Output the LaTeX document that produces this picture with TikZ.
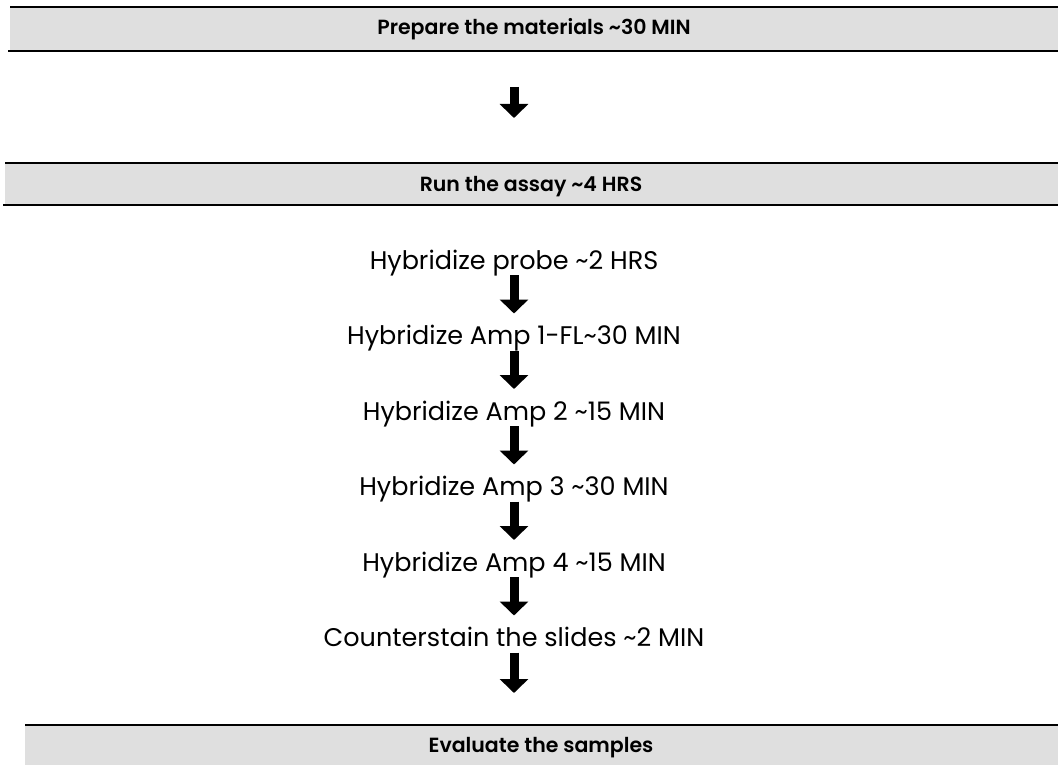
\documentclass[tikz,border=0pt]{standalone}
\usepackage{fontspec}
\setmainfont{Poppins}[BoldFont={Poppins SemiBold}]
\usetikzlibrary{arrows.meta,calc}
\definecolor{bandgray}{RGB}{223,223,223}
\tikzset{
  bandfill/.style={fill=bandgray, draw=none},
  bandline/.style={line width=2.6pt, black},
  bandtext/.style={font=\bfseries\fontsize{20.5}{24}\selectfont, inner sep=0pt, anchor=base},
  steptext/.style={font=\fontsize{25.5}{28}\selectfont, inner sep=0pt, anchor=base},
  bigarrow/.style={line width=9pt, -{Triangle[width=28pt,length=14pt]}}
}
\begin{document}
\begin{tikzpicture}[x=1pt,y=-1pt]
\useasboundingbox (0,0) rectangle (1058,765);
% band 1
\fill[bandfill] (10,8) rectangle (1058,50);
\draw[bandline] (10,7) -- (1058,7);
\draw[bandline] (8,51) -- (1058,51);
\node[bandtext] (b1) at (534,35) {Prepare the materials \textasciitilde30 MIN};
% band 2
\fill[bandfill] (5,164) rectangle (1058,204);
\draw[bandline] (5,163) -- (1058,163);
\draw[bandline] (3,205) -- (1058,205);
\node[bandtext] (b2) at (531,191) {Run the assay \textasciitilde4 HRS};
% band 3
\fill[bandfill] (25,726) rectangle (1058,765);
\draw[bandline] (25,725) -- (1058,725);
\node[bandtext] (b3) at (541,752) {Evaluate the samples};
% steps
\node[steptext] (s1) at (514,269) {Hybridize probe \textasciitilde2 HRS};
\node[steptext] (s2) at (514,344.5) {Hybridize Amp 1-FL\textasciitilde30 MIN};
\node[steptext] (s3) at (514,420) {Hybridize Amp 2 \textasciitilde15 MIN};
\node[steptext] (s4) at (514,495.5) {Hybridize Amp 3 \textasciitilde30 MIN};
\node[steptext] (s5) at (514,571) {Hybridize Amp 4 \textasciitilde15 MIN};
\node[steptext] (s6) at (514,646.5) {Counterstain the slides \textasciitilde2 MIN};
\coordinate (end) at (514,693);
% arrows
\draw[bigarrow] ($(b1.base -| s1.base)+(0,52)$) -- ($(b2.base -| s1.base)+(0,-73)$);
\draw[bigarrow] ([yshift=-6pt]s1.base) -- ([yshift=31pt]s2.base);
\draw[bigarrow] ([yshift=-6pt]s2.base) -- ([yshift=31pt]s3.base);
\draw[bigarrow] ([yshift=-6pt]s3.base) -- ([yshift=31pt]s4.base);
\draw[bigarrow] ([yshift=-6pt]s4.base) -- ([yshift=31pt]s5.base);
\draw[bigarrow] ([yshift=-6pt]s5.base) -- ([yshift=31pt]s6.base);
\draw[bigarrow] ([yshift=-6pt]s6.base) -- (end);
\end{tikzpicture}
\end{document}
